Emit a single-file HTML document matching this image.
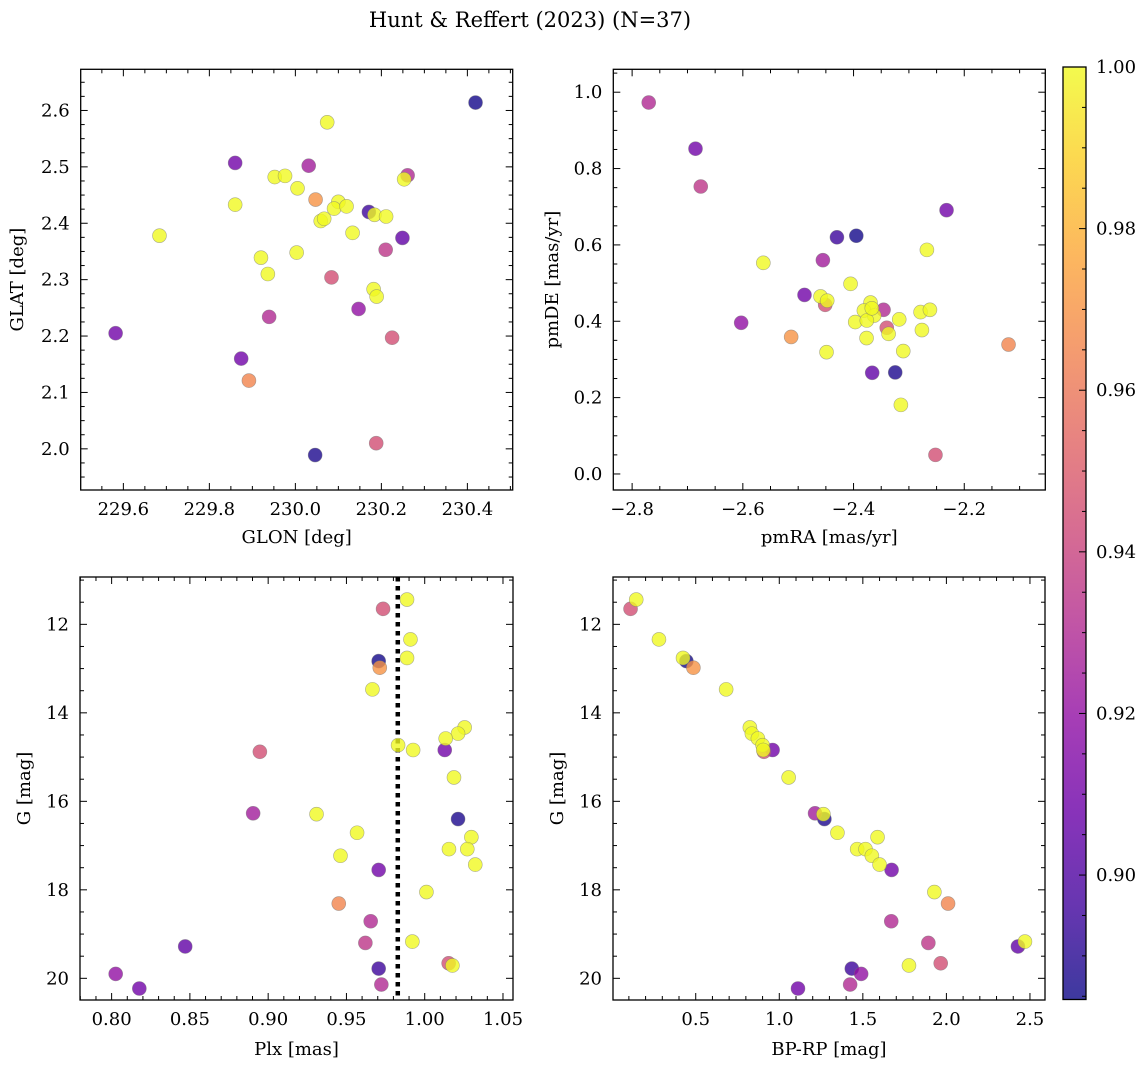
<!DOCTYPE html>
<html><head><meta charset="utf-8"><style>
html,body{margin:0;padding:0;background:#fff;}
svg{display:block;font-family:"DejaVu Serif","Liberation Serif",serif;}
</style></head><body>
<svg id="fig" width="1148" height="1067" viewBox="0 0 1148 1067" xmlns="http://www.w3.org/2000/svg">
<text x="530" y="27" font-size="21" text-anchor="middle">Hunt &amp; Reffert (2023) (N=37)</text>
<defs>
<linearGradient id="plasmaGrad" x1="0" y1="1" x2="0" y2="0">
<stop offset="0" stop-color="#0d0887"/><stop offset="0.1" stop-color="#41049d"/><stop offset="0.2" stop-color="#6a00a8"/><stop offset="0.3" stop-color="#8f0da4"/><stop offset="0.4" stop-color="#b12a90"/><stop offset="0.5" stop-color="#cc4778"/><stop offset="0.6" stop-color="#e16462"/><stop offset="0.7" stop-color="#f2844b"/><stop offset="0.8" stop-color="#fca636"/><stop offset="0.9" stop-color="#fcce25"/><stop offset="1" stop-color="#f0f921"/>
</linearGradient>
</defs>
<g id="layer"></g>
</svg>
<script>
const prob = [0.945,1,1,1,0.886,0.97,1,1,1,1,1,0.945,1,0.91,1,0.925,0.888,1,1,1,1,1,1,1,0.91,1,0.965,0.93,0.935,0.905,1,1,0.945,0.895,0.92,0.91,0.93];
const glon = [230.084,230.074,230.253,229.952,230.419,230.047,229.976,230.005,229.860,230.100,230.090,230.188,230.119,229.582,230.184,230.031,230.046,230.211,230.059,230.067,229.684,230.133,229.920,230.003,229.874,229.936,229.892,230.261,230.210,230.249,230.182,230.189,230.225,230.171,230.147,229.860,229.939];
const glat = [2.304,2.579,2.478,2.482,2.614,2.442,2.484,2.462,2.433,2.438,2.426,2.010,2.430,2.205,2.415,2.502,1.989,2.412,2.404,2.408,2.378,2.383,2.339,2.348,2.160,2.310,2.121,2.485,2.353,2.374,2.283,2.270,2.197,2.420,2.248,2.507,2.234];
const pmra = [-2.340,-2.2675,-2.563,-2.4054,-2.395,-2.5127,-2.4596,-2.4476,-2.3693,-2.3813,-2.3627,-2.4512,-2.2789,-2.6855,-2.2620,-2.4554,-2.3247,-2.397,-2.376,-2.3175,-2.3367,-2.2765,-2.3765,-2.4488,-2.232,-2.3102,-2.120,-2.770,-2.676,-2.3663,-2.3145,-2.367,-2.252,-2.430,-2.603,-2.4886,-2.3458];
const pmde = [0.383,0.587,0.553,0.498,0.624,0.359,0.465,0.454,0.449,0.428,0.415,0.443,0.424,0.852,0.430,0.560,0.266,0.398,0.402,0.405,0.367,0.377,0.356,0.319,0.691,0.322,0.339,0.973,0.753,0.265,0.181,0.434,0.050,0.620,0.396,0.469,0.430];
const plx = [0.9734,0.9887,0.9909,0.9887,0.9706,0.9713,0.9666,1.0255,1.0213,1.0134,0.983,0.8947,0.9926,1.0128,1.0187,0.8904,1.0213,0.9309,0.9568,1.0298,1.0155,1.0272,0.9462,1.0323,0.9706,1.0011,0.9451,0.9655,0.9621,0.847,0.9921,1.0177,1.0153,0.9706,0.8026,0.8177,0.9723];
const gmag = [11.65,11.44,12.34,12.76,12.83,12.98,13.47,14.33,14.47,14.58,14.73,14.88,14.84,14.84,15.46,16.27,16.40,16.29,16.71,16.81,17.08,17.08,17.23,17.43,17.55,18.05,18.31,18.71,19.20,19.28,19.17,19.71,19.66,19.78,19.90,20.23,20.14];
const bprp = [0.11,0.144,0.28,0.424,0.444,0.486,0.682,0.824,0.836,0.872,0.90,0.908,0.904,0.96,1.056,1.214,1.27,1.264,1.348,1.588,1.466,1.516,1.554,1.60,1.672,1.928,2.01,1.67,1.892,2.428,2.47,1.776,1.966,1.434,1.49,1.112,1.424];
const plxRef = [0.9828];
const cbTicks = [0.90,0.92,0.94,0.96,0.98,1.00];

const NS="http://www.w3.org/2000/svg";
const layer=document.getElementById('layer');
const FS=18;
function mk(tag,attrs,parent){const e=document.createElementNS(NS,tag);for(const k in attrs)e.setAttribute(k,attrs[k]);(parent||layer).appendChild(e);return e;}
const stops=[[13,8,135],[65,4,157],[106,0,168],[143,13,164],[177,42,144],[204,71,120],[225,100,98],[242,132,75],[252,166,54],[252,206,37],[240,249,33]];
const cmin=0.8846,cmax=1.0;
function plasma(v){let t=(v-cmin)/(cmax-cmin);t=Math.max(0,Math.min(1,t));const f=t*10,i=Math.min(9,Math.floor(f)),r=f-i;const a=stops[i],b=stops[i+1];return 'rgb('+[0,1,2].map(k=>Math.round(a[k]+(b[k]-a[k])*r)).join(',')+')';}

const panels=[
 {name:'glon-glat',x0:80.7,x1:512.7,y0:69.3,y1:490,xd:[229.5008,230.5054],yd:[1.927,2.673],xs:glon,ys:glat,xmaj:0.2,xmin:0.05,ymaj:0.1,ymin:0.025,xdec:1,ydec:1,xl:'GLON [deg]',yl:'GLAT [deg]',xlY:543,ylX:23},
 {name:'pm',x0:613.3,x1:1045.3,y0:69.3,y1:490,xd:[-2.834,-2.0536],yd:[-0.042,1.060],xs:pmra,ys:pmde,xmaj:0.2,xmin:0.05,ymaj:0.2,ymin:0.05,xdec:1,ydec:1,xl:'pmRA [mas/yr]',yl:'pmDE [mas/yr]',xlY:543,ylX:558},
 {name:'plx-g',x0:80,x1:513,y0:577,y1:1000,xd:[0.7798,1.0564],yd:[20.49,10.93],xs:plx,ys:gmag,xmaj:0.05,xmin:0.01,ymaj:2,ymin:0.5,xdec:2,ydec:0,xl:'Plx [mas]',yl:'G [mag]',xlY:1055,ylX:30},
 {name:'cmd',x0:613,x1:1045,y0:577,y1:1000,xd:[0.005,2.59],yd:[20.49,10.93],xs:bprp,ys:gmag,xmaj:0.5,xmin:0.1,ymaj:2,ymin:0.5,xdec:1,ydec:0,xl:'BP-RP [mag]',yl:'G [mag]',xlY:1055,ylX:563}
];
const order=prob.map((p,i)=>i).sort((a,b)=>prob[a]-prob[b]);
function fmtNeg(v,d){const s=Math.abs(v).toFixed(d);return (v<-1e-9?'\u2212':'')+s;}
panels.forEach((P,pi)=>{
 const sx=v=>P.x0+(v-P.xd[0])/(P.xd[1]-P.xd[0])*(P.x1-P.x0);
 const sy=v=>P.y1-(v-P.yd[0])/(P.yd[1]-P.yd[0])*(P.y1-P.y0);
 const g=mk('g',{});
 
 
 if(pi===2){
  plxRef.forEach(v=>{const ln=mk('line',{x1:sx(v),x2:sx(v),y1:P.y0,y2:P.y1,stroke:'#000','stroke-width':4.5,'stroke-dasharray':'4.5 4.5'},g);
   
   });
 }
 order.forEach(i=>{
  const c=mk('circle',{cx:sx(P.xs[i]),cy:sy(P.ys[i]),r:7,fill:plasma(prob[i]),'fill-opacity':0.8,stroke:'#777','stroke-opacity':0.6,'stroke-width':0.6},g);
  
  
 });
 const lo=Math.min(P.xd[0],P.xd[1]),hi=Math.max(P.xd[0],P.xd[1]);
 for(let k=Math.ceil(lo/P.xmin-1e-6);k*P.xmin<=hi+1e-9;k++){const v=k*P.xmin;if(v<lo-1e-9)continue;const isMaj=Math.abs(v/P.xmaj-Math.round(v/P.xmaj))<1e-6;const L=isMaj?7:4;const x=sx(v);
  mk('line',{x1:x,x2:x,y1:P.y1,y2:P.y1-L,stroke:'#000','stroke-width':1},g);mk('line',{x1:x,x2:x,y1:P.y0,y2:P.y0+L,stroke:'#000','stroke-width':1},g);
  if(isMaj){const t=mk('text',{x:x,y:P.y1+25,'font-size':FS,'text-anchor':'middle'},g);t.textContent=fmtNeg(v,P.xdec);
   
   }}
 const ylo=Math.min(P.yd[0],P.yd[1]),yhi=Math.max(P.yd[0],P.yd[1]);
 for(let k=Math.ceil(ylo/P.ymin-1e-6);k*P.ymin<=yhi+1e-9;k++){const v=k*P.ymin;const isMaj=Math.abs(v/P.ymaj-Math.round(v/P.ymaj))<1e-6;const L=isMaj?7:4;const y=sy(v);
  mk('line',{x1:P.x0,x2:P.x0+L,y1:y,y2:y,stroke:'#000','stroke-width':1},g);mk('line',{x1:P.x1,x2:P.x1-L,y1:y,y2:y,stroke:'#000','stroke-width':1},g);
  if(isMaj){const t=mk('text',{x:P.x0-11,y:y+6,'font-size':FS,'text-anchor':'end'},g);t.textContent=fmtNeg(v,P.ydec);
   
   }}
 const fr=mk('rect',{x:P.x0,y:P.y0,width:P.x1-P.x0,height:P.y1-P.y0,fill:'none',stroke:'#000','stroke-width':1.3},g);
 
 
 const xl=mk('text',{x:(P.x0+P.x1)/2,y:P.xlY,'font-size':FS,'text-anchor':'middle'},g);xl.textContent=P.xl;
 
 
 const cy=(P.y0+P.y1)/2;
 const yl=mk('text',{x:P.ylX,y:cy,'font-size':FS,'text-anchor':'middle',transform:'rotate(-90 '+P.ylX+' '+cy+')'},g);yl.textContent=P.yl;
 
 
});
const cb={x0:1063,x1:1086,y0:67,y1:999.5};
const cbg=mk('g',{});


mk('rect',{x:cb.x0,y:cb.y0,width:cb.x1-cb.x0,height:cb.y1-cb.y0,fill:'url(#plasmaGrad)','fill-opacity':0.8},cbg);
const cyS=v=>cb.y1-(v-cmin)/(cmax-cmin)*(cb.y1-cb.y0);
for(let k=Math.ceil(cmin/0.005);k*0.005<=cmax+1e-9;k++){const v=k*0.005;const y=cyS(v);const isMaj=Math.abs(v/0.02-Math.round(v/0.02))<1e-6;
 mk('line',{x1:cb.x1,x2:cb.x1-(isMaj?7:4),y1:y,y2:y,stroke:'#000','stroke-width':1},cbg);}
cbTicks.forEach(v=>{const t=mk('text',{x:cb.x1+10,y:cyS(v)+6,'font-size':FS},cbg);t.textContent=v.toFixed(2);
 
 });
mk('rect',{x:cb.x0,y:cb.y0,width:cb.x1-cb.x0,height:cb.y1-cb.y0,fill:'none',stroke:'#000','stroke-width':1.3},cbg);
</script>
</body></html>
